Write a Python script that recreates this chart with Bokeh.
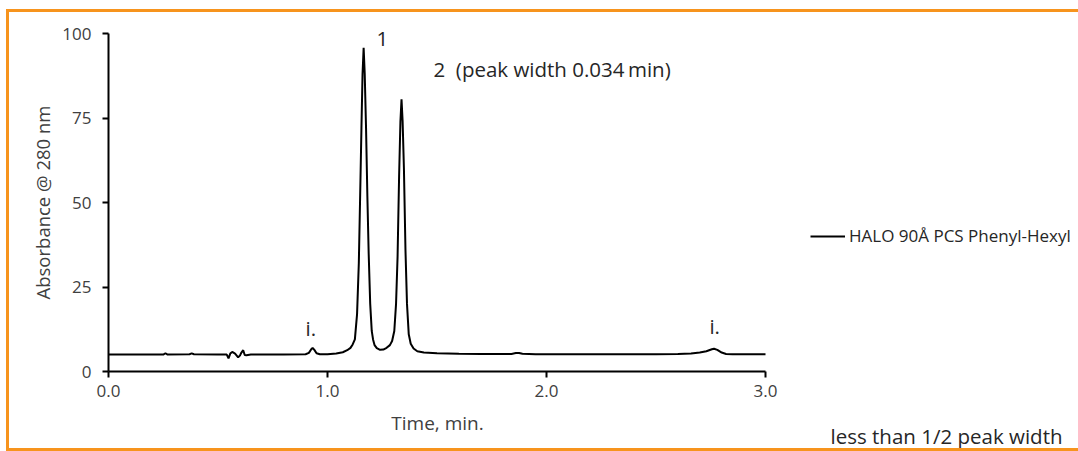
import math
from bokeh.plotting import figure
from bokeh.models import FixedTicker, NumeralTickFormatter, Label, Legend, LegendItem
from bokeh.embed import file_html
from bokeh.resources import INLINE

# ---- data ----
time_min = [0.00, 0.10, 0.20, 0.25, 0.26, 0.27, 0.37, 0.38, 0.39, 0.50,
            0.54, 0.548, 0.556, 0.565, 0.578, 0.592, 0.600, 0.607, 0.615, 0.622,
            0.630, 0.650, 0.800, 0.900, 0.915, 0.925, 0.932, 0.940, 0.950, 0.965,
            1.000, 1.040, 1.070, 1.090, 1.105, 1.115, 1.125, 1.135, 1.143, 1.150,
            1.155, 1.160, 1.165, 1.170, 1.176, 1.182, 1.188, 1.195, 1.202, 1.208,
            1.215, 1.225, 1.240, 1.255, 1.270, 1.285, 1.295, 1.305, 1.313, 1.320,
            1.327, 1.333, 1.338, 1.343, 1.349, 1.356, 1.363, 1.371, 1.380, 1.393,
            1.410, 1.440, 1.500, 1.600, 1.700, 1.840, 1.860, 1.875, 1.890, 1.950,
            2.100, 2.300, 2.500, 2.600, 2.660, 2.700, 2.730, 2.755, 2.765, 2.780,
            2.800, 2.820, 2.850, 2.900, 3.000]
absorbance = [5.0, 5.0, 5.0, 5.0, 5.4, 5.0, 5.1, 5.35, 5.1, 5.0,
              5.0, 3.9, 5.3, 5.8, 5.3, 4.2, 4.7, 5.6, 6.3, 4.9,
              4.8, 5.0, 5.0, 5.1, 5.5, 6.5, 7.0, 6.4, 5.4, 5.1,
              5.1, 5.3, 5.7, 6.3, 7.0, 8.0, 9.5, 17.0, 32.0, 55.0,
              72.0, 88.0, 95.8, 88.0, 72.0, 52.0, 35.0, 20.0, 12.0, 9.5,
              7.8, 6.9, 6.4, 6.5, 7.0, 7.8, 9.0, 12.0, 20.0, 34.0,
              58.0, 74.0, 80.5, 74.0, 60.0, 36.0, 20.0, 11.0, 8.2, 6.8,
              6.0, 5.6, 5.4, 5.25, 5.2, 5.2, 5.45, 5.5, 5.25, 5.1,
              5.1, 5.1, 5.1, 5.15, 5.3, 5.6, 6.0, 6.6, 6.75, 6.4,
              5.6, 5.2, 5.1, 5.1, 5.1]

x_ticks = [0, 1, 2, 3]
y_ticks = [0, 25, 50, 75, 100]
x_title = "Time, min."
y_title = "Absorbance @ 280 nm"
series_name = "HALO 90Å PCS Phenyl-Hexyl"
peak_labels = ["1", "2\u00a0 (peak width 0.034\u2009min)", "i.", "i."]
peak_label_x = [1.224, 1.484, 0.900, 2.744]
peak_label_y = [95.9, 87.0, 10.6, 11.2]
note_text = "less than 1/2 peak width"

FONT = "Open Sans"
AXIS_COL = "#404040"
TEXT_COL = "#262626"
ORANGE = "#F7941D"

# canvas placement on the page and the data->pixel mapping of the reference
CX0, CY0, CW, CH = 9, 12, 1069, 436
PX_X0, PX_PER_MIN = 108, 219.0       # page x of t=0, px per minute
PX_Y0, PX_PER_AU = 371, 3.38         # page y of A=0, px per unit
BASE_SHIFT = 8 / PX_PER_AU           # correction of the rendered text baseline
x_start = (CX0 - PX_X0) / PX_PER_MIN
x_end = (CX0 + CW - PX_X0) / PX_PER_MIN
y_end = (PX_Y0 - CY0) / PX_PER_AU
y_start = (PX_Y0 - (CY0 + CH)) / PX_PER_AU

p = figure(width=CW, height=CH, x_range=(x_start, x_end), y_range=(y_start, y_end),
           output_backend="svg", toolbar_location=None,
           min_border=0, min_border_left=0, min_border_right=0,
           min_border_top=0, min_border_bottom=0)
p.title.visible = False
p.styles = {"margin-left": f"{CX0}px", "margin-top": f"{CY0}px",
            "box-shadow": (f"-3px -3px 0 0 {ORANGE}, -3px 3px 0 0 {ORANGE}, "
                           f"0 -3px 0 0 {ORANGE}, 0 3px 0 0 {ORANGE}")}
p.outline_line_color = None
p.xgrid.visible = False
p.ygrid.visible = False
p.background_fill_color = "white"
p.border_fill_color = "white"

r = p.line(time_min, absorbance, line_color="black", line_width=2)

p.xaxis.ticker = FixedTicker(ticks=x_ticks, minor_ticks=[])
p.yaxis.ticker = FixedTicker(ticks=y_ticks, minor_ticks=[])
p.xaxis.formatter = NumeralTickFormatter(format="0.0")
p.yaxis.formatter = NumeralTickFormatter(format="0")
p.xaxis.bounds = (0, 3)
p.yaxis.bounds = (0, 100)
p.xaxis.fixed_location = 0
p.yaxis.fixed_location = 0
for ax in (p.xaxis[0], p.yaxis[0]):
    ax.axis_line_color = "black"
    ax.axis_line_width = 2
    ax.major_tick_line_color = "black"
    ax.major_tick_line_width = 2
    ax.major_tick_in = 0
    ax.major_tick_out = 6
    ax.minor_tick_out = 0
    ax.minor_tick_in = 0
    ax.major_label_text_font = FONT
    ax.major_label_text_font_size = "17px"
    ax.major_label_text_color = AXIS_COL
p.xaxis.major_label_standoff = 7
p.yaxis.major_label_standoff = 11

# axis titles
p.add_layout(Label(x=(437 - PX_X0) / PX_PER_MIN,
                   y=(PX_Y0 - 430) / PX_PER_AU + BASE_SHIFT,
                   text=x_title, text_font=FONT, text_font_size="19px",
                   text_color=AXIS_COL, text_align="center",
                   text_baseline="alphabetic"))
p.add_layout(Label(x=(42 - PX_X0) / PX_PER_MIN, y=(PX_Y0 - 202) / PX_PER_AU,
                   text=y_title, text_font=FONT, text_font_size="18.5px",
                   text_color=AXIS_COL, text_align="center",
                   text_baseline="middle", angle=math.pi / 2))

for t, lx, ly in zip(peak_labels, peak_label_x, peak_label_y):
    p.add_layout(Label(x=lx, y=ly + BASE_SHIFT, text=t, text_font=FONT,
                       text_font_size="20.5px", text_color=TEXT_COL,
                       text_baseline="alphabetic"))

p.add_layout(Label(x=(830 - PX_X0) / PX_PER_MIN,
                   y=(PX_Y0 - 443) / PX_PER_AU + BASE_SHIFT,
                   text=note_text, text_font=FONT,
                   text_font_size="20.5px", text_color=TEXT_COL,
                   text_baseline="alphabetic"))

legend = Legend(items=[LegendItem(label=series_name, renderers=[r])],
                location=(810 - CX0, CY0 + CH - 247), padding=0, margin=0,
                border_line_color=None, background_fill_alpha=0,
                glyph_width=35, glyph_height=20, label_standoff=4,
                label_text_font=FONT, label_text_font_size="17px",
                label_text_color=TEXT_COL)
p.add_layout(legend)

open("out.html", "w").write(file_html(p, INLINE))
